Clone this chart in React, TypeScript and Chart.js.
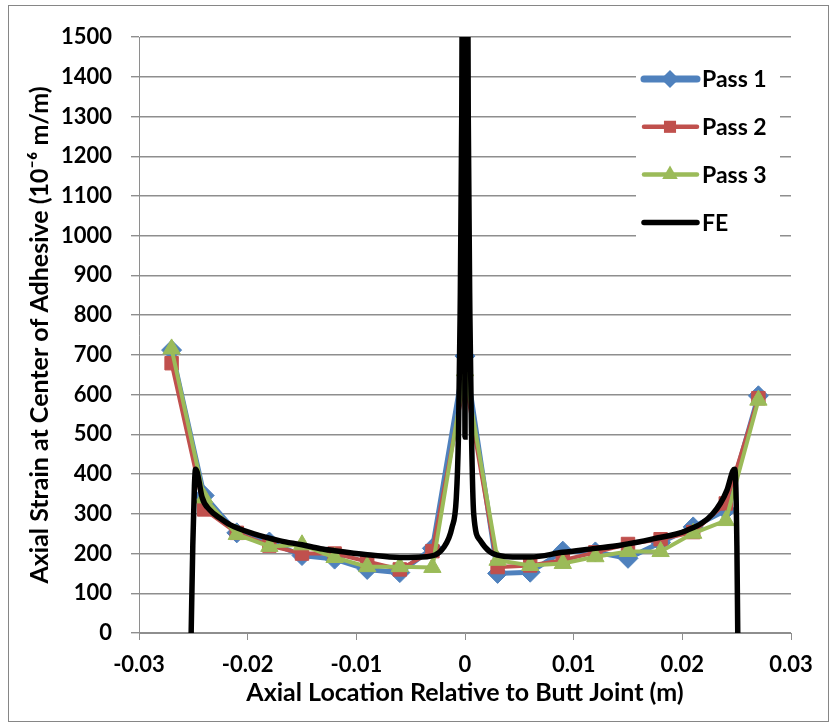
import React, { useEffect, useRef } from 'react';
import { Chart, registerables } from 'chart.js';

Chart.register(...registerables);

// ---- Data ----
const xPositions = [-0.027, -0.024, -0.021, -0.018, -0.015, -0.012, -0.009, -0.006, -0.003, 0, 0.003, 0.006, 0.009, 0.012, 0.015, 0.018, 0.021, 0.024, 0.027];
const pass1 = [712, 346, 252, 229, 195, 186, 160, 152, 213, 697, 150, 153, 206, 204, 188, 228, 267, 309, 597];
const pass2 = [679, 311, 252, 220, 200, 200, 180, 160, 206, 640, 166, 170, 183, 203, 224, 236, 254, 326, 591];
const pass3 = [715, 340, 248, 218, 222, 190, 167, 167, 165, 660, 183, 170, 175, 192, 205, 205, 251, 283, 586];

const feX = [-0.0252, -0.02505, -0.0249, -0.0248, -0.02465, -0.0245, -0.0242, -0.0235, -0.0225, -0.0216, -0.0195, -0.017, -0.015, -0.0133, -0.012, -0.009, -0.006, -0.0035, -0.002, -0.0012, -0.0008, -0.0006, -0.00045, -0.0003, -0.0002, -0.0001, -0.00003, 0, 0.00003, 0.0001, 0.0002, 0.0003, 0.00045, 0.0006, 0.0008, 0.0014, 0.0023, 0.003, 0.0044, 0.006, 0.009, 0.012, 0.0143, 0.0173, 0.0204, 0.0228, 0.0241, 0.02465, 0.0248, 0.0249, 0.02502, 0.0251];
const feY = [0, 220, 370, 412, 405, 385, 342, 310, 288, 272, 250, 232, 222, 212, 207, 197, 190, 192, 214, 265, 340, 500, 800, 1300, 2000, 1500, 900, 493, 900, 1500, 2000, 1300, 800, 500, 300, 233, 204, 196, 191, 191, 203, 213, 221, 237, 258, 300, 359, 408, 412, 390, 220, 0];

const seriesNames = ['Pass 1', 'Pass 2', 'Pass 3', 'FE'];
const seriesColors = ['#4F81BD', '#C0504D', '#9BBB59', '#000000'];
const xTickValues = [-0.03, -0.02, -0.01, 0, 0.01, 0.02, 0.03];
const yMin = 0;
const yMax = 1500;
const yStep = 100;

const xTitle = 'Axial Location Relative to Butt Joint (m)';
const yTitle = 'Axial Strain at Center of Adhesive (10\u207B\u2076 m/m)';

const FONT = "Lato, 'Open Sans', 'DejaVu Sans', sans-serif";
const GRID = '#8e8e8e';

function fmtX(v: number): string {
  const r = Math.round(v * 100) / 100;
  return r === 0 ? '0' : String(r);
}

function drawMarker(ctx: CanvasRenderingContext2D, style: string, x: number, y: number, r: number, color: string) {
  ctx.fillStyle = color;
  ctx.beginPath();
  if (style === 'rectRot') {
    ctx.moveTo(x, y - r);
    ctx.lineTo(x + r, y);
    ctx.lineTo(x, y + r);
    ctx.lineTo(x - r, y);
    ctx.closePath();
  } else if (style === 'rect') {
    const h = r * Math.SQRT1_2;
    ctx.rect(x - h, y - h, 2 * h, 2 * h);
  } else if (style === 'triangle') {
    for (let k = 0; k < 3; k++) {
      const a = (k * 2 * Math.PI) / 3;
      const px = x + Math.sin(a) * r;
      const py = y - Math.cos(a) * r;
      if (k === 0) ctx.moveTo(px, py);
      else ctx.lineTo(px, py);
    }
    ctx.closePath();
  } else {
    return;
  }
  ctx.fill();
}

export default function App() {
  const ref = useRef<HTMLCanvasElement>(null);

  useEffect(() => {
    const canvas = ref.current;
    if (!canvas) return;

    const pointStyles = ['rectRot', 'rect', 'triangle', 'none'];
    const pointRadii = [10, 9.5, 10, 0];
    const legendLineWidths = [7, 4.5, 4.5, 5.5];

    const framePlugin = {
      id: 'frame',
      beforeDraw(chart: any) {
        const { ctx, width, height } = chart;
        ctx.save();
        ctx.fillStyle = '#ffffff';
        ctx.fillRect(0, 0, width, height);
        ctx.strokeStyle = '#868686';
        ctx.lineWidth = 1;
        ctx.strokeRect(8.5, 5.5, 820, 716);
        ctx.restore();
      },
    };

    const legendPlugin = {
      id: 'customLegend',
      afterDraw(chart: any) {
        const { ctx, chartArea } = chart;
        const left = chartArea.right - 155;
        const top = chartArea.top + 20;
        ctx.save();
        ctx.fillStyle = '#ffffff';
        ctx.fillRect(left, top, 144, 188);
        seriesNames.forEach((name, i) => {
          const cy = top + 22 + i * 47.8;
          ctx.strokeStyle = seriesColors[i];
          ctx.lineWidth = legendLineWidths[i];
          ctx.lineCap = 'round';
          ctx.beginPath();
          ctx.moveTo(left + 8, cy);
          ctx.lineTo(left + 61, cy);
          ctx.stroke();
          drawMarker(ctx, pointStyles[i], left + 34, cy, pointRadii[i] * 0.9, seriesColors[i]);
          ctx.fillStyle = '#000000';
          ctx.font = `bold 23px ${FONT}`;
          ctx.textBaseline = 'middle';
          ctx.textAlign = 'left';
          ctx.fillText(name, left + 66, cy + 1);
        });
        ctx.restore();
      },
    };

    const passData = [pass1, pass2, pass3];
    const datasets: any[] = passData.map((vals, i) => ({
      label: seriesNames[i],
      data: xPositions.map((x, j) => ({ x, y: vals[j] })),
      borderColor: seriesColors[i],
      backgroundColor: seriesColors[i],
      pointBackgroundColor: seriesColors[i],
      pointBorderColor: seriesColors[i],
      borderWidth: i === 0 ? 5 : 4,
      pointStyle: pointStyles[i],
      pointRadius: pointRadii[i],
      pointBorderWidth: 1,
      tension: 0,
      order: 4 - i,
    }));
    datasets.push({
      label: seriesNames[3],
      data: feX.map((x, j) => ({ x, y: feY[j] })),
      borderColor: seriesColors[3],
      backgroundColor: seriesColors[3],
      borderWidth: 5.5,
      pointRadius: 0,
      cubicInterpolationMode: 'monotone',
      clip: 0,
      order: 1,
    });

    const tickFont = { family: FONT, size: 22, weight: 'bold' as const };
    const titleFont = { family: FONT, size: 25, weight: 'bold' as const };

    const chart = new Chart(canvas, {
      type: 'line',
      data: { datasets },
      options: {
        animation: false,
        responsive: false,
        maintainAspectRatio: false,
        layout: { padding: { top: 37, right: 40, left: 0, bottom: 0 } },
        plugins: {
          legend: { display: false },
          tooltip: { enabled: false },
        },
        scales: {
          x: {
            type: 'linear',
            min: xTickValues[0],
            max: xTickValues[xTickValues.length - 1],
            afterBuildTicks: (s: any) => {
              s.ticks = xTickValues.map((v) => ({ value: v }));
            },
            afterFit: (s: any) => {
              s.height = 92;
            },
            ticks: {
              font: tickFont,
              color: '#000',
              padding: 12,
              maxRotation: 0,
              autoSkip: false,
              callback: (v: any) => fmtX(Number(v)),
            },
            grid: { drawOnChartArea: false, drawTicks: true, tickLength: 7, color: GRID, lineWidth: 1 },
            border: { display: true, color: GRID, width: 1 },
            title: {
              display: true,
              text: xTitle,
              color: '#000',
              font: titleFont,
              padding: { top: 0, bottom: 17 },
            },
          },
          y: {
            type: 'linear',
            min: yMin,
            max: yMax,
            afterFit: (s: any) => {
              s.width = 139;
            },
            ticks: {
              stepSize: yStep,
              font: tickFont,
              color: '#000',
              padding: 19,
              callback: (v: any) => String(Math.round(Number(v))),
            },
            grid: { drawTicks: true, tickLength: 8, color: GRID, lineWidth: 1.4 },
            border: { display: true, color: GRID, width: 1 },
            title: {
              display: true,
              text: yTitle,
              color: '#000',
              font: titleFont,
              padding: { top: 25, bottom: 0 },
            },
          },
        },
      },
      plugins: [framePlugin, legendPlugin],
    } as any);

    return () => chart.destroy();
  }, []);

  return (
    <div style={{ position: 'fixed', left: 0, top: 0, width: 831, height: 725, background: '#fff' }}>
      <canvas ref={ref} width={831} height={725} style={{ display: 'block', width: 831, height: 725 }} />
    </div>
  );
}
